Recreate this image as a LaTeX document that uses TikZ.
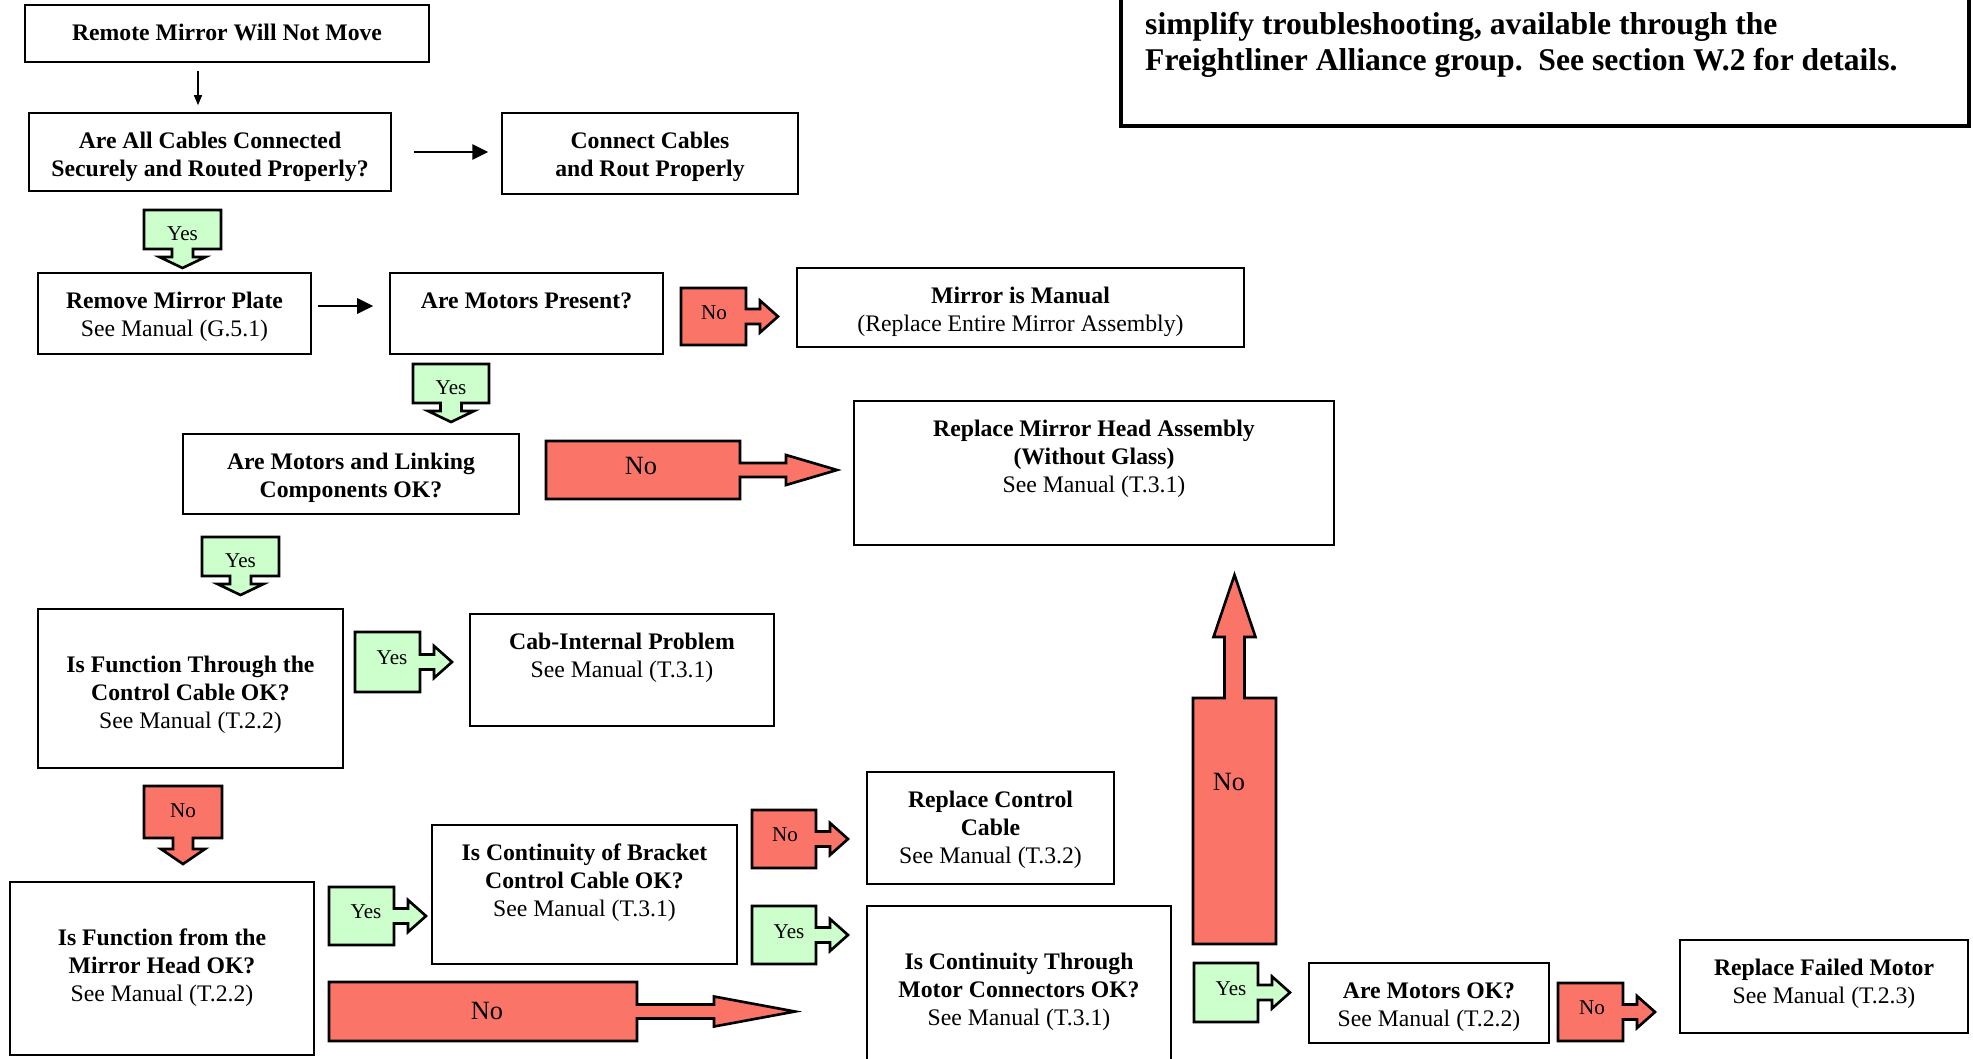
\documentclass[tikz,border=0pt]{standalone}
\usepackage{fontspec}
\setmainfont{Liberation Serif}
\usetikzlibrary{fit,arrows.meta}
\definecolor{yesgreen}{RGB}{204,255,204}
\definecolor{nored}{RGB}{250,117,104}
\tikzset{
  fcbox/.style={draw, line width=0.9pt, inner sep=0pt, align=center, font=\fontsize{13.5}{15.9}\selectfont},
  yescall/.style={draw, line width=1.5pt, fill=yesgreen},
  nocall/.style={draw, line width=1.5pt, fill=nored},
  lbl/.style={font=\fontsize{12}{14}\selectfont},
  biglbl/.style={font=\fontsize{15}{17}\selectfont},
  flow/.style={line width=1.6pt, -{Triangle[length=0.32cm,width=0.3cm]}},
}
\begin{document}
\begin{tikzpicture}[x=0.02cm, y=-0.02cm]
        \useasboundingbox (0,0) rectangle (1973,1058);
        \clip (0,0) rectangle (1973,1058);

        \node[draw, line width=2.3pt, inner sep=0pt, fit={(1121,-30) (1969,126)}] (note) {};
        \node[anchor=west, align=left, font=\fontsize{18}{20.5}\selectfont\bfseries] (notetext) at (1139,45)
            {simplify troubleshooting, available through the\\Freightliner Alliance group.\ \ See section W.2 for details.};

        \node[fcbox, minimum width=8.08cm, minimum height=1.14cm] (start) at (227,33.5)
            {\rule{0pt}{19.8pt}\textbf{Remote Mirror Will Not Move}\rule[-12.3pt]{0pt}{12.3pt}};
        \node[fcbox, minimum width=7.24cm, minimum height=1.56cm] (cables) at (210,152)
            {\rule{0pt}{19.8pt}\textbf{Are All Cables Connected}\\\textbf{Securely and Routed Properly?}\rule[-8.3pt]{0pt}{8.3pt}};
        \node[fcbox, minimum width=5.92cm, minimum height=1.62cm] (connect) at (650,153.5)
            {\rule{0pt}{19.8pt}\textbf{Connect Cables}\\\textbf{and Rout Properly}\rule[-10pt]{0pt}{10pt}};
        \node[fcbox, minimum width=5.46cm, minimum height=1.62cm] (plate) at (174.5,313.5)
            {\rule{0pt}{19.8pt}\textbf{Remove Mirror Plate}\\See Manual (G.5.1)\rule[-10pt]{0pt}{10pt}};
        \node[fcbox, minimum width=5.46cm, minimum height=1.62cm] (present) at (526.5,313.5)
            {\rule{0pt}{19.8pt}\textbf{Are Motors Present?}\rule[-25.9pt]{0pt}{25.9pt}};
        \node[fcbox, minimum width=8.94cm, minimum height=1.58cm] (manual) at (1020.5,307.5)
            {\rule{0pt}{19.8pt}\textbf{Mirror is Manual}\\(Replace Entire Mirror Assembly)\rule[-8.9pt]{0pt}{8.9pt}};
        \node[fcbox, minimum width=6.72cm, minimum height=1.6cm] (linking) at (351,474)
            {\rule{0pt}{19.8pt}\textbf{Are Motors and Linking}\\\textbf{Components OK?}\rule[-9.4pt]{0pt}{9.4pt}};
        \node[fcbox, minimum width=9.6cm, minimum height=2.88cm] (head) at (1094,473)
            {\rule{0pt}{19.8pt}\textbf{Replace Mirror Head Assembly}\\\textbf{(Without Glass)}\\See Manual (T.3.1)\rule[-29.8pt]{0pt}{29.8pt}};
        \node[fcbox, minimum width=6.1cm, minimum height=3.18cm] (through) at (190.5,688.5)
            {\rule{0pt}{35.7pt}\textbf{Is Function Through the}\\\textbf{Control Cable OK?}\\See Manual (T.2.2)\rule[-22.4pt]{0pt}{22.4pt}};
        \node[fcbox, minimum width=6.08cm, minimum height=2.24cm] (cab) at (622,670)
            {\rule{0pt}{19.8pt}\textbf{Cab-Internal Problem}\\See Manual (T.3.1)\rule[-27.6pt]{0pt}{27.6pt}};
        \node[fcbox, minimum width=6.08cm, minimum height=3.46cm] (fromhead) at (162,968.5)
            {\rule{0pt}{35.7pt}\textbf{Is Function from the}\\\textbf{Mirror Head OK?}\\See Manual (T.2.2)\rule[-30.4pt]{0pt}{30.4pt}};
        \node[fcbox, minimum width=6.1cm, minimum height=2.78cm] (bracket) at (584.5,894.5)
            {\rule{0pt}{19.8pt}\textbf{Is Continuity of Bracket}\\\textbf{Control Cable OK?}\\See Manual (T.3.1)\rule[-27pt]{0pt}{27pt}};
        \node[fcbox, minimum width=4.94cm, minimum height=2.24cm] (control) at (990.5,828)
            {\rule{0pt}{19.8pt}\textbf{Replace Control}\\\textbf{Cable}\\See Manual (T.3.2)\rule[-11.7pt]{0pt}{11.7pt}};
        \node[fcbox, minimum width=6.08cm, minimum height=3.28cm] (connectors) at (1019,988)
            {\rule{0pt}{35.7pt}\textbf{Is Continuity Through}\\\textbf{Motor Connectors OK?}\\See Manual (T.3.1)\rule[-25.2pt]{0pt}{25.2pt}};
        \node[fcbox, minimum width=4.8cm, minimum height=1.6cm] (motorsok) at (1429,1003)
            {\rule{0pt}{19.8pt}\textbf{Are Motors OK?}\\See Manual (T.2.2)\rule[-9.4pt]{0pt}{9.4pt}};
        \node[fcbox, minimum width=5.76cm, minimum height=1.86cm] (failed) at (1824,986.5)
            {\rule{0pt}{19.8pt}\textbf{Replace Failed Motor}\\See Manual (T.2.3)\rule[-16.8pt]{0pt}{16.8pt}};

        \draw[line width=0.8pt, -{Triangle[length=0.2cm,width=0.16cm]}, shorten <=0.16cm, shorten >=0.14cm]
            (start.south -| 198,0) -- (cables.north -| 198,0);
        \draw[flow, shorten <=0.44cm, shorten >=0.26cm] (cables.east) -- (cables.east -| connect.west);
        \draw[flow, shorten <=0.12cm, shorten >=0.32cm] (plate.east |- 0,306) -- (present.west |- 0,306);

        \draw[yescall] (144,210) -- (221,210) -- (221,249) -- (193,249) -- (193,257) -- (205.5,257) -- (182.5,268)
            -- (159.5,257) -- (172,257) -- (172,249) -- (144,249) -- cycle;
        \node[lbl] (yes1) at (182.5,234) {Yes};
        \draw[yescall] (413,364) -- (489,364) -- (489,403) -- (461.5,403) -- (461.5,411) -- (474,411) -- (451,422)
            -- (428,411) -- (440.5,411) -- (440.5,403) -- (413,403) -- cycle;
        \node[lbl] (yes2) at (451,388) {Yes};
        \draw[yescall] (202,537) -- (279,537) -- (279,576) -- (251,576) -- (251,584) -- (263.5,584) -- (240.5,595)
            -- (217.5,584) -- (230,584) -- (230,576) -- (202,576) -- cycle;
        \node[lbl] (yes3) at (240.5,561) {Yes};
        \draw[nocall] (144,786) -- (222,786) -- (222,838) -- (193,838) -- (193,849) -- (205,849) -- (183,864)
            -- (161,849) -- (173,849) -- (173,838) -- (144,838) -- cycle;
        \node[lbl] (no4) at (183,811) {No};

        \draw[nocall] (681,288) -- (746,288) -- (746,309) -- (760,309) -- (760,300.5) -- (778,316.5)
            -- (760,332.5) -- (760,324) -- (746,324) -- (746,345) -- (681,345) -- cycle;
        \node[lbl] (no1) at (714,313) {No};
        \draw[yescall] (355,632) -- (420,632) -- (420,654.5) -- (434,654.5) -- (434,646) -- (452,662)
            -- (434,678) -- (434,669.5) -- (420,669.5) -- (420,692) -- (355,692) -- cycle;
        \node[lbl] (yes4) at (392,658) {Yes};
        \draw[yescall] (329,887) -- (394,887) -- (394,908.5) -- (408,908.5) -- (408,900) -- (426,916)
            -- (408,932) -- (408,923.5) -- (394,923.5) -- (394,945) -- (329,945) -- cycle;
        \node[lbl] (yes5) at (366,912) {Yes};
        \draw[nocall] (752,810) -- (816,810) -- (816,831.5) -- (830,831.5) -- (830,823) -- (848,839)
            -- (830,855) -- (830,846.5) -- (816,846.5) -- (816,868) -- (752,868) -- cycle;
        \node[lbl] (no5) at (785,835) {No};
        \draw[yescall] (752,906) -- (816,906) -- (816,927.5) -- (830,927.5) -- (830,919) -- (848,935)
            -- (830,951) -- (830,942.5) -- (816,942.5) -- (816,964) -- (752,964) -- cycle;
        \node[lbl] (yes6) at (789,932) {Yes};
        \draw[yescall] (1194,963) -- (1258,963) -- (1258,985) -- (1272,985) -- (1272,976.5) -- (1290,992.5)
            -- (1272,1008.5) -- (1272,1000) -- (1258,1000) -- (1258,1022) -- (1194,1022) -- cycle;
        \node[lbl] (yes7) at (1231,989) {Yes};
        \draw[nocall] (1558,983) -- (1623,983) -- (1623,1004.5) -- (1637,1004.5) -- (1637,996) -- (1655,1012)
            -- (1637,1028) -- (1637,1019.5) -- (1623,1019.5) -- (1623,1041) -- (1558,1041) -- cycle;
        \node[lbl] (no7) at (1592,1008) {No};

        \draw[nocall] (546,441) -- (740,441) -- (740,463) -- (786,463) -- (786,455) -- (837,470)
            -- (786,485) -- (786,477) -- (740,477) -- (740,499) -- (546,499) -- cycle;
        \node[biglbl] (no2) at (641,466) {No};
        \draw[nocall] (329,982) -- (637,982) -- (637,1004.5) -- (714,1004.5) -- (714,996.5) -- (795,1011.5)
            -- (714,1026.5) -- (714,1018.5) -- (637,1018.5) -- (637,1041) -- (329,1041) -- cycle;
        \node[biglbl] (no6) at (487,1011) {No};
        \draw[nocall] (1193,944) -- (1193,698) -- (1224.5,698) -- (1224.5,637) -- (1213.5,637) -- (1234.5,575)
            -- (1255.5,637) -- (1244.5,637) -- (1244.5,698) -- (1276,698) -- (1276,944) -- cycle;
        \node[biglbl] (no3) at (1229,782) {No};

\end{tikzpicture}
\end{document}
